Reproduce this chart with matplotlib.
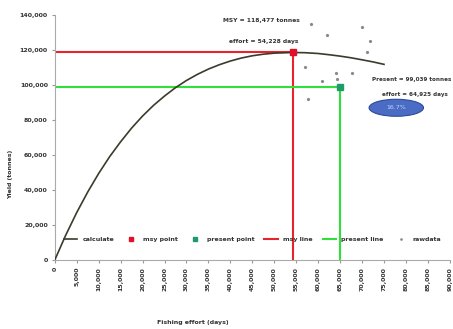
import matplotlib
matplotlib.use("Agg")
import matplotlib.pyplot as plt
from matplotlib.patches import Ellipse
from matplotlib.ticker import FuncFormatter

# calculated yield curve
effort_calc = [0, 2500, 5000, 7500, 10000, 12500, 15000, 17500, 20000, 22500,
               25000, 27500, 30000, 32500, 35000, 37500, 40000, 42500, 45000,
               47500, 50000, 54228, 57000, 60000, 62500, 65000, 67500, 70000,
               72500, 75000]
yield_calc = [0, 14200, 27100, 38800, 49400, 59000, 67500, 75300, 82200, 88300,
              93600, 98400, 102500, 106000, 109000, 111500, 113600, 115300, 116600,
              117500, 118100, 118477, 118350, 117900, 117200, 116400, 115450, 114300,
              113100, 111700]

# raw data points
effort_raw = [58300, 62000, 70100, 71900, 71200, 57000, 64000, 67800, 64400, 60800, 57700]
yield_raw = [134900, 128600, 133100, 125100, 118900, 110300, 106900, 106900, 103400, 102300, 92000]

msy_effort, msy_yield = 54228, 118477
pres_effort, pres_yield = 64925, 99039
pct_label = "16.7%"

fig = plt.figure(figsize=(4.53, 3.29), dpi=100)
ax = fig.add_axes([0.121, 0.21, 0.872, 0.745])

red = "#e8232d"
green = "#2fe03a"
txt = "#333333"

ax.plot(effort_calc, yield_calc, color="#3b3b2c", lw=1.2, label="calculate", zorder=3)
ax.plot([0, msy_effort], [msy_yield, msy_yield], color=red, lw=1.5, label="msy line", zorder=2)
ax.plot([msy_effort, msy_effort], [0, msy_yield], color=red, lw=1.5, zorder=2)
ax.plot([0, pres_effort], [pres_yield, pres_yield], color=green, lw=1.5, label="present line", zorder=2)
ax.plot([pres_effort, pres_effort], [0, pres_yield], color=green, lw=1.5, zorder=2)
ax.plot([msy_effort], [msy_yield], ls="none", marker="s", ms=5, color="#e0102a",
        label="msy point", zorder=4)
ax.plot([pres_effort], [pres_yield], ls="none", marker="s", ms=5, color="#1f9a6a",
        label="present point", zorder=4)
ax.plot(effort_raw, yield_raw, ls="none", marker="o", ms=1.3, color="#8a8a8a",
        label="rawdata", zorder=3)

ax.text(47000, 137000, "MSY = 118,477 tonnes", fontsize=4.3, weight="bold",
        ha="center", va="center", color=txt)
ax.text(47500, 125000, "effort = 54,228 days", fontsize=4.3, weight="bold",
        ha="center", va="center", color=txt)
ax.text(81300, 103000, "Present = 99,039 tonnes", fontsize=4.1, weight="bold",
        ha="center", va="center", color=txt)
ax.text(82000, 94300, "effort = 64,925 days", fontsize=4.1, weight="bold",
        ha="center", va="center", color=txt)
ax.add_patch(Ellipse((77800, 86900), 12400, 9700, facecolor="#4a6cc4",
                     edgecolor="#2e4a9a", lw=0.8, zorder=5))
ax.text(77800, 86900, pct_label, fontsize=4.5, color="#c8d4f4", ha="center",
        va="center", zorder=6)

ax.set_xlim(0, 90000)
ax.set_ylim(0, 140000)
ax.set_xticks(range(0, 90001, 5000))
ax.set_yticks(range(0, 140001, 20000))
fmt = FuncFormatter(lambda v, p: f"{int(v):,}")
ax.xaxis.set_major_formatter(fmt)
ax.yaxis.set_major_formatter(fmt)
for lab in ax.get_xticklabels():
    lab.set_rotation(90)
ax.tick_params(labelsize=4.5, length=2, color="#999999", pad=3)
for lab in ax.get_xticklabels() + ax.get_yticklabels():
    lab.set_fontweight("bold")
    lab.set_color(txt)
for s in ["top", "right"]:
    ax.spines[s].set_visible(False)
for s in ["left", "bottom"]:
    ax.spines[s].set_color("#aaaaaa")
    ax.spines[s].set_linewidth(0.8)

ax.set_xlabel("Fishing effort (days)", fontsize=4.5, weight="bold", color=txt)
ax.xaxis.set_label_coords(0.35, -0.245)
ax.set_ylabel("Yield (tonnes)", fontsize=4.5, weight="bold", color=txt)
ax.yaxis.set_label_coords(-0.105, 0.35)

handles, labels = ax.get_legend_handles_labels()
order = ["calculate", "msy point", "present point", "msy line", "present line", "rawdata"]
hmap = dict(zip(labels, handles))
ax.legend([hmap[k] for k in order], order, loc="center", bbox_to_anchor=(0.5, 0.085),
          ncol=6, frameon=False, handlelength=2.2, columnspacing=1.6,
          markerscale=0.7, labelcolor=txt, prop={"size": 4.5, "weight": "bold"})

fig.savefig("out.png", dpi=100)
